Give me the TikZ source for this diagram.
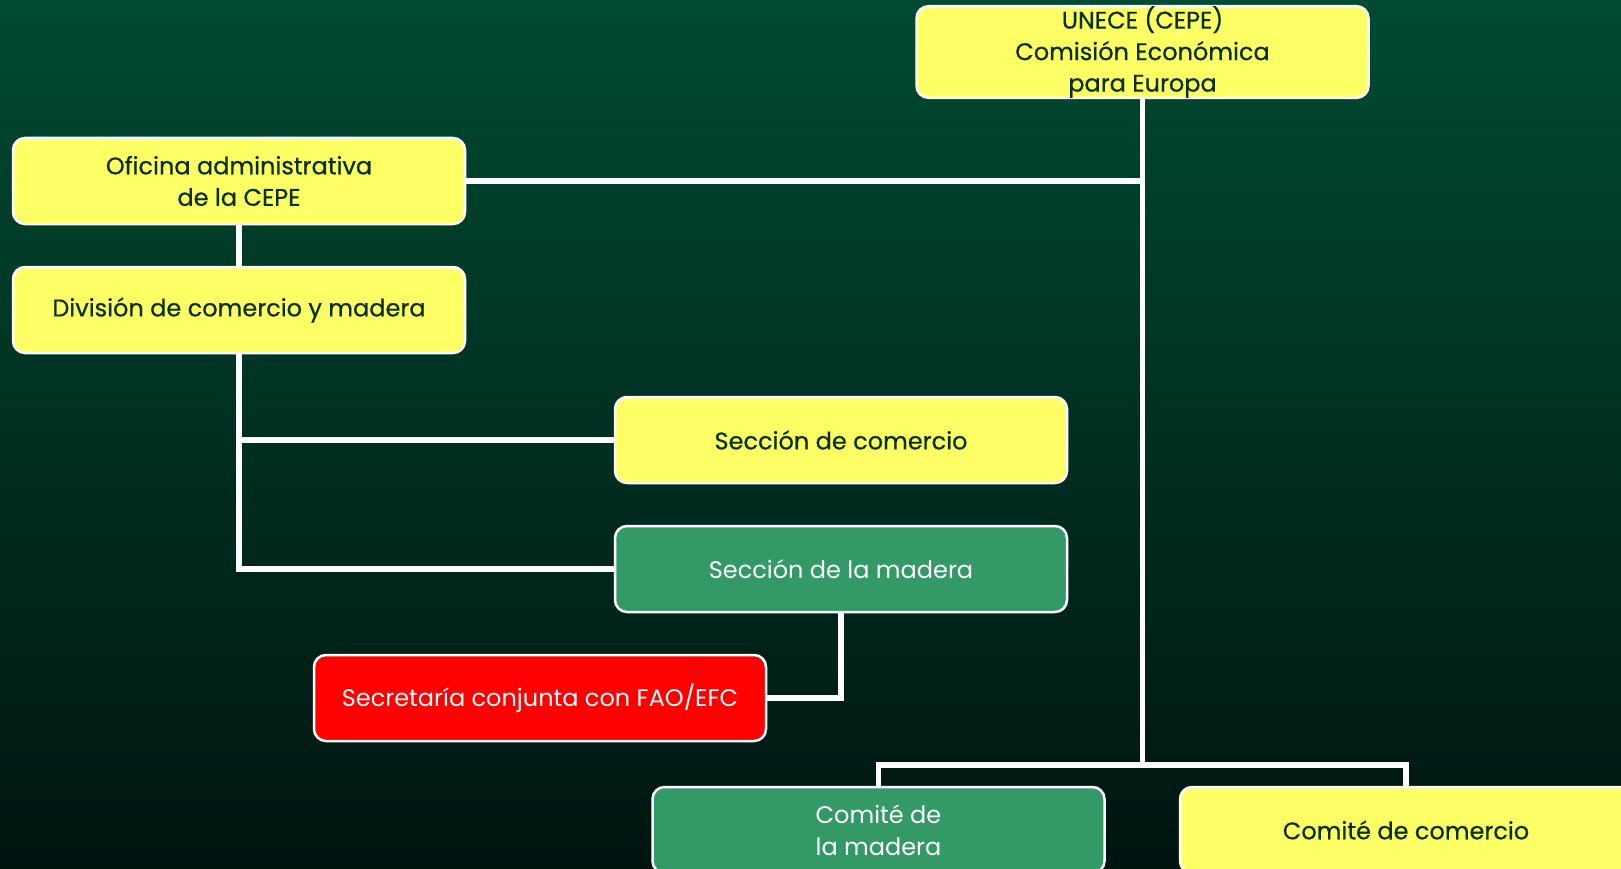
\documentclass[tikz,border=0pt]{standalone}
\usepackage{fontspec}
\setmainfont{Poppins}
\newfontfamily\medfont[FakeBold=0.6]{Poppins}
\definecolor{bgtop}{HTML}{004B32}
\definecolor{bgbot}{HTML}{001410}
\definecolor{boxyellow}{HTML}{FFFF66}
\definecolor{boxgreen}{HTML}{339966}
\definecolor{boxred}{HTML}{FF0000}
\definecolor{textgreen}{HTML}{0A3000}
\tikzset{
  box/.style={draw=white, line width=2.5pt, rounded corners=12pt,
    minimum width=452pt, minimum height=86pt, inner sep=0pt, align=center},
  ybox/.style={box, fill=boxyellow, text=textgreen, font=\medfont\fontsize{24}{31.5}\selectfont},
  gbox/.style={box, fill=boxgreen, text=white, font=\fontsize{24}{31.5}\selectfont},
  rbox/.style={box, fill=boxred, text=white, font=\fontsize{24}{31.5}\selectfont},
  link/.style={draw=white, line width=5.5pt}
}
\begin{document}
\begin{tikzpicture}[x=1pt, y=-1pt]
\path[use as bounding box] (0,0) rectangle (1621,869);
\clip (0,0) rectangle (1621,869);
\shade[top color=bgtop, bottom color=bgbot] (0,0) rectangle (1621,869);

\node[ybox] (unece) at (1142.5,52) {UNECE (CEPE)\\Comisión Económica\\para Europa};
\node[ybox] (ofi) at (239,181) {Oficina administrativa\\de la CEPE};
\node[ybox] (div) at (239,310) {División de comercio y madera};
\node[ybox] (scom) at (841,440) {Sección de comercio};
\node[gbox] (smad) at (841,569) {Sección de la madera};
\node[rbox] (sec) at (540,698) {Secretaría conjunta con FAO/EFC};
\node[gbox] (cmad) at (878.5,830) {Comité de\\la madera};
\node[ybox] (ccom) at (1406,830) {Comité de comercio};

\coordinate (j2) at (1142.5,765);
\draw[link] (unece.south) -- (j2);
\draw[link] (ofi.east) -- (unece.south |- ofi.east);
\draw[link] (cmad.north) |- (j2) -| (ccom.north);
\draw[link] (ofi.south) -- (div.north);
\draw[link] (div.south) |- (smad.west);
\draw[link] (div.south |- scom.west) -- (scom.west);
\draw[link] (smad.south) |- (sec.east);
\end{tikzpicture}
\end{document}
